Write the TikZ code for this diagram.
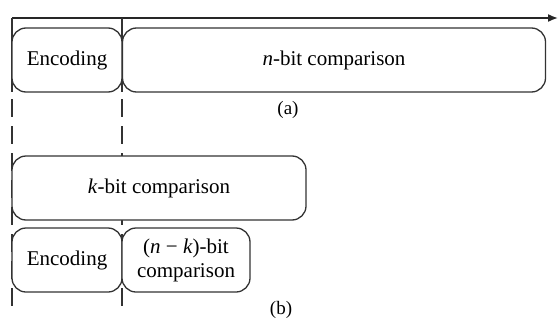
\documentclass[tikz,border=0pt]{standalone}
\usepackage{fontspec}
\setmainfont{Liberation Serif}
\usetikzlibrary{arrows.meta}
\tikzset{
  phase/.style={draw=black!80, line width=1.3pt, rounded corners=14pt, fill=white,
    minimum height=64pt, inner sep=0pt, font=\fontsize{21}{24}\selectfont},
  sublabel/.style={font=\fontsize{19}{22}\selectfont, inner sep=0pt},
  dashline/.style={draw=black!80, line width=1.3pt, dash pattern=on 18pt off 9pt},
}
\begin{document}
\begin{tikzpicture}[>={Latex[length=10pt,width=8pt]}, x=1pt, y=-1pt, line width=1.3pt]
\useasboundingbox (0,0) rectangle (559,324);
\def\xa{12}
\def\xb{122}
% Zeitachse und Markierungen
\coordinate (A0) at (\xa,18);
\coordinate (A1) at (\xb,18);
\coordinate (A2) at (558,18);
\coordinate (D0) at (\xa,92);
\coordinate (D1) at (\xb,92);
\coordinate (S0) at (\xa,99);
\coordinate (S1) at (\xb,99);
\coordinate (E0) at (\xa,306);
\coordinate (E1) at (\xb,306);
\draw[->, line width=1.6pt, black!85] (A0) -- (A2);
\draw[black!80] (A0) -- (D0);
\draw[black!80] (A1) -- (D1);
\draw[dashline] (S0) -- (E0);
\draw[dashline] (S1) -- (E1);
% (a)
\node[phase, minimum width=110pt] (encA) at (67,60) {Encoding};
\node[phase, minimum width=423pt] (cmpA) at (334,60) {\textit{n}-bit comparison};
\node[sublabel] (labA) at (288,110) {(a)};
% (b)
\node[phase, minimum width=294pt] (cmpK) at (159,188) {\textit{k}-bit comparison};
\node[phase, minimum width=110pt] (encB) at (67,260) {Encoding};
\node[phase, minimum width=128pt, align=center] (cmpNK) at (186,260) {(\textit{n} − \textit{k})-bit\\comparison};
\node[sublabel] (labB) at (281,310) {(b)};
\end{tikzpicture}
\end{document}
